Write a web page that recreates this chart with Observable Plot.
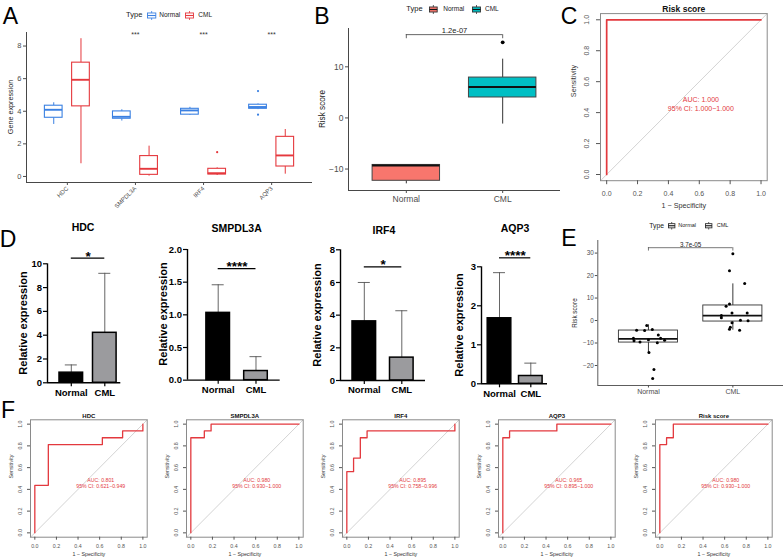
<!DOCTYPE html>
<html><head><meta charset="utf-8">
<script src="https://cdn.jsdelivr.net/npm/d3@7"></script>
<script src="https://cdn.jsdelivr.net/npm/@observablehq/plot@0.6"></script>
<style>
body{margin:0;background:#fff;}
#root{position:relative;width:783px;height:560px;overflow:hidden;background:#fff;font-family:"Liberation Sans",Arial,Helvetica,sans-serif;}
</style></head><body><div id="root"></div>
<script>
// ================= DATA =================
const genes = ["HDC", "SMPDL3A", "IRF4", "AQP3"];
const groups = ["Normal", "CML"];

// Panel A: box summaries (gene expression)
const aNormLo  = [3.19, 3.40, 3.74, 4.10];
const aNormQ1  = [3.60, 3.54, 3.79, 4.15];
const aNormMed = [4.09, 3.66, 4.05, 4.26];
const aNormQ3  = [4.34, 3.99, 4.15, 4.40];
const aNormHi  = [4.52, 4.09, 4.24, 4.45];
const aCmlLo   = [0.78, 0.02, 0.06, 0.14];
const aCmlQ1   = [4.30, 0.10, 0.12, 0.61];
const aCmlMed  = [5.93, 0.47, 0.20, 1.29];
const aCmlQ3   = [6.98, 1.25, 0.47, 2.43];
const aCmlHi   = [8.45, 1.86, 0.53, 2.88];
const aOutGene  = ["AQP3", "AQP3", "IRF4"];
const aOutGroup = ["Normal", "Normal", "CML"];
const aOutValue = [5.24, 3.79, 1.49];
const aSig = ["", "***", "***", "***"];
const aSigY = 8.7;

// Panel B: risk score boxes
const bLo  = [-12.9, -1.2];
const bQ1  = [-12.3, 4.0];
const bMed = [-9.3, 6.05];
const bQ3  = [-9.2, 7.9];
const bHi  = [-9.2, 11.5];
const bOutGroup = ["CML"];
const bOutValue = [14.8];
const bP = "1.2e-07";
const bBracketY = 16.3;

// Panel C: ROC of risk score
const cFpr  = [0, 0, 1];
const cSens = [0, 1, 1];
const cTitle = "Risk score";
const cAuc = "AUC: 1.000";
const cCi  = "95% CI: 1.000\u22121.000";

// Panel D: qPCR bars (mean and mean+SD)
const dNormMean  = [0.85, 1.03, 3.62, 1.68];
const dNormSdTop = [1.50, 1.46, 6.00, 2.85];
const dCmlMean   = [4.20, 0.14, 1.40, 0.20];
const dCmlSdTop  = [9.20, 0.36, 4.27, 0.53];
const dSig  = ["*", "****", "*", "****"];
const dSigY = [10.47, 1.706, 6.96, 3.23];
const dTicks = [[0, 2, 4, 6, 8, 10], [0, 0.5, 1, 1.5, 2], [0, 2, 4, 6, 8], [0, 1, 2, 3]];

// Panel E: validation risk score
const eLo  = [-14.4, -4.3];
const eQ1  = [-9.8, -0.45];
const eMed = [-8.2, 2.2];
const eQ3  = [-4.45, 6.7];
const eHi  = [-1.9, 16.3];
const eNormVals = [-4.3, -4.45, -2.2, -4.0, -6.4, -7.9, -9.0, -9.6, -8.5, -7.9, -8.8, -9.9, -14.2, -21.8, -25.8];
const eNormJit  = [-0.14, -0.045, -0.02, 0.046, 0.117, -0.178, -0.171, -0.1, 0, 0.144, 0.191, 0.105, 0.006, 0.065, 0.05];
const eCmlVals  = [29.7, 22.1, 16.5, 7.3, 6.4, 3.4, 3.4, 2.2, 1.2, 0.1, -0.1, -1.0, -3.0, -3.9, -4.3];
const eCmlJit   = [0, -0.04, 0.14, -0.04, -0.08, -0.01, 0.17, -0.136, -0.136, 0.09, 0.18, -0.01, -0.03, -0.04, 0.08];
const eP = "3.7e-05";
const eBracketY = 32.4;

// Panel F: validation ROC curves
const fTitles = ["HDC", "SMPDL3A", "IRF4", "AQP3", "Risk score"];
const fHdcFpr   = [0, 0, 0.125, 0.125, 0.625, 0.625, 0.8125, 0.8125, 1, 1];
const fHdcSens  = [0, 0.4375, 0.4375, 0.8125, 0.8125, 0.875, 0.875, 0.9375, 0.9375, 1];
const fSmpFpr   = [0, 0, 0.125, 0.125, 0.1875, 0.1875, 1];
const fSmpSens  = [0, 0.875, 0.875, 0.9375, 0.9375, 1, 1];
const fIrfFpr   = [0, 0, 0.0625, 0.0625, 0.125, 0.125, 0.1875, 0.1875, 1, 1];
const fIrfSens  = [0, 0.5625, 0.5625, 0.6875, 0.6875, 0.875, 0.875, 0.9375, 0.9375, 1];
const fAqpFpr   = [0, 0, 0.0625, 0.0625, 0.5, 0.5, 1];
const fAqpSens  = [0, 0.875, 0.875, 0.9375, 0.9375, 1, 1];
const fRiskFpr  = [0, 0, 0.0625, 0.0625, 0.125, 0.125, 1];
const fRiskSens = [0, 0.8125, 0.8125, 0.875, 0.875, 1, 1];
const fAuc = ["AUC: 0.801", "AUC: 0.980", "AUC: 0.895", "AUC: 0.965", "AUC: 0.980"];
const fCi  = ["95% CI: 0.621\u22120.949", "95% CI: 0.930\u22121.000", "95% CI: 0.758\u22120.996", "95% CI: 0.895\u22121.000", "95% CI: 0.930\u22121.000"];

const rocTicks = [0, 0.2, 0.4, 0.6, 0.8, 1.0];

// ================= HELPERS =================
const FONT = '"Liberation Sans", Arial, Helvetica, sans-serif';
const root = document.getElementById("root");

function txt(s, x, y, o = {}) {
  const d = document.createElement("div");
  d.textContent = s;
  const a = o.anchor || "middle";
  const tx = a === "start" ? "0" : a === "end" ? "-100%" : "-50%";
  d.style.cssText = `position:absolute;left:${x}px;top:${y}px;transform:translate(${tx},-50%)${o.rot ? ` rotate(${o.rot}deg)` : ""};` +
    `font-family:${FONT};font-size:${o.size || 10}px;font-weight:${o.weight || "normal"};color:${o.color || "#000"};white-space:nowrap;line-height:1;`;
  root.appendChild(d);
}

function icon(x, yc, w, h, stroke, fill, mid) {
  const ns = "http://www.w3.org/2000/svg";
  const s = document.createElementNS(ns, "svg");
  s.setAttribute("width", w); s.setAttribute("height", h);
  s.style.cssText = `position:absolute;left:${x}px;top:${yc - h / 2}px;overflow:visible`;
  s.innerHTML = `<line x1="${w / 2}" x2="${w / 2}" y1="0" y2="${h}" stroke="${stroke}" stroke-width="0.8"/>` +
    `<rect x="0.5" y="${h * 0.22}" width="${w - 1}" height="${h * 0.56}" fill="${fill}" stroke="${stroke}" stroke-width="0.9"/>` +
    `<line x1="0.5" x2="${w - 0.5}" y1="${h / 2}" y2="${h / 2}" stroke="${mid}" stroke-width="1.1"/>`;
  root.appendChild(s);
}

function mk(box, fr, opts) {
  const svg = Plot.plot(Object.assign({
    width: box.w, height: box.h,
    marginLeft: fr.x0 - box.l, marginRight: box.l + box.w - fr.x1,
    marginTop: fr.y0 - box.t, marginBottom: box.t + box.h - fr.y1,
    style: `background:transparent;overflow:visible;max-width:none;font-family:${FONT};`
  }, opts));
  svg.style.position = "absolute";
  svg.style.left = box.l + "px";
  svg.style.top = box.t + "px";
  root.appendChild(svg);
  return svg;
}

// ================= PANEL A =================
const aBlue = "#3a80e2", aRed = "#e5383d";
const aRows = [];
genes.forEach((g, i) => {
  aRows.push({gene: g, group: "Normal", xc: i + 1 - 0.2, lo: aNormLo[i], q1: aNormQ1[i], med: aNormMed[i], q3: aNormQ3[i], hi: aNormHi[i]});
  aRows.push({gene: g, group: "CML", xc: i + 1 + 0.2, lo: aCmlLo[i], q1: aCmlQ1[i], med: aCmlMed[i], q3: aCmlQ3[i], hi: aCmlHi[i]});
});
const aOut = aOutValue.map((v, i) => ({v, group: aOutGroup[i], xc: genes.indexOf(aOutGene[i]) + 1 + (aOutGroup[i] === "Normal" ? -0.2 : 0.2)}));
const aYDom = [-0.37, 8.83];
const aHW = 0.13;
mk({l: 0, t: 0, w: 320, h: 210}, {x0: 26, x1: 312, y0: 32, y1: 182}, {
  x: {domain: [0.4, 4.6]}, y: {domain: aYDom},
  color: {domain: groups, range: [aBlue, aRed]},
  marks: [
    Plot.ruleX(aRows, {x: "xc", y1: "lo", y2: "q1", stroke: "group", strokeWidth: 1}),
    Plot.ruleX(aRows, {x: "xc", y1: "q3", y2: "hi", stroke: "group", strokeWidth: 1}),
    Plot.rect(aRows, {x1: d => d.xc - aHW, x2: d => d.xc + aHW, y1: "q1", y2: "q3", fill: "white", stroke: "group", strokeWidth: 1.1}),
    Plot.ruleY(aRows, {y: "med", x1: d => d.xc - aHW, x2: d => d.xc + aHW, stroke: "group", strokeWidth: 1.9}),
    Plot.dot(aOut, {x: "xc", y: "v", r: 1.1, fill: "group"}),
    Plot.text(genes.map((g, i) => ({i: i + 1, s: aSig[i]})), {x: "i", y: aSigY, text: "s", fontSize: 7, fill: "#333"}),
    Plot.ruleX([0.4], {stroke: "#333", strokeWidth: 0.9}),
    Plot.ruleY([aYDom[0]], {stroke: "#333", strokeWidth: 0.9}),
    Plot.axisY({ticks: [0, 2, 4, 6, 8], tickFormat: d3.format("d"), tickSize: 3, tickPadding: 2, fontSize: 7.5, color: "#4d4d4d", label: null}),
    Plot.axisX({ticks: [1, 2, 3, 4], tickFormat: d => genes[d - 1], tickSize: 3, tickPadding: 2, tickRotate: -45, fontSize: 6, color: "#4d4d4d", label: null})
  ]
});
txt("A", 10.5, 16, {size: 23});
txt("Gene expression", 11, 107, {size: 7.2, rot: -90, color: "#222"});
txt("Type", 134.2, 15, {size: 7.5, color: "#222"});
icon(146.7, 15, 9.3, 9, aBlue, "white", aBlue);
txt("Normal", 159.3, 15, {size: 6.5, anchor: "start", color: "#222"});
icon(185, 15, 9, 9, aRed, "white", aRed);
txt("CML", 198.3, 15, {size: 6.5, anchor: "start", color: "#222"});

// ================= PANEL B =================
const bRows = groups.map((g, i) => ({group: g, xc: i + 1, lo: bLo[i], q1: bQ1[i], med: bMed[i], q3: bQ3[i], hi: bHi[i]}));
const bOut = bOutValue.map((v, i) => ({v, xc: groups.indexOf(bOutGroup[i]) + 1}));
const bYDom = [-14.2, 17.5];
const bHW = 0.35;
mk({l: 320, t: 0, w: 245, h: 210}, {x0: 348, x1: 560, y0: 28, y1: 190}, {
  x: {domain: [0.4, 2.6]}, y: {domain: bYDom},
  color: {domain: groups, range: ["#F8766D", "#00BFC4"]},
  marks: [
    Plot.ruleX(bRows, {x: "xc", y1: "lo", y2: "q1", stroke: "#333", strokeWidth: 1}),
    Plot.ruleX(bRows, {x: "xc", y1: "q3", y2: "hi", stroke: "#333", strokeWidth: 1}),
    Plot.rect(bRows, {x1: d => d.xc - bHW, x2: d => d.xc + bHW, y1: "q1", y2: "q3", fill: "group", stroke: "#444", strokeWidth: 1}),
    Plot.ruleY(bRows, {y: "med", x1: d => d.xc - bHW, x2: d => d.xc + bHW, stroke: "#111", strokeWidth: 2}),
    Plot.dot(bOut, {x: "xc", y: "v", r: 1.9, fill: "#000"}),
    Plot.ruleY([bBracketY], {x1: 1, x2: 2, stroke: "#555", strokeWidth: 0.9}),
    Plot.ruleX([1, 2], {x: d => d, y1: bBracketY - 0.8, y2: bBracketY, stroke: "#555", strokeWidth: 0.9}),
    Plot.text([bP], {x: 1.5, y: bBracketY, text: d => d, lineAnchor: "bottom", dy: -1.3, fontSize: 7.5, fill: "#222"}),
    Plot.ruleX([0.4], {stroke: "#333", strokeWidth: 0.9}),
    Plot.ruleY([bYDom[0]], {stroke: "#333", strokeWidth: 0.9}),
    Plot.axisY({ticks: [-10, 0, 10], tickFormat: d3.format("d"), tickSize: 3, tickPadding: 2, fontSize: 8.5, color: "#4d4d4d", label: null}),
    Plot.axisX({ticks: [1, 2], tickFormat: d => groups[d - 1], tickSize: 3, tickPadding: 2.3, fontSize: 8.5, color: "#4d4d4d", label: null})
  ]
});
txt("B", 322, 15.5, {size: 23});
txt("Risk score", 323, 109, {size: 8.2, rot: -90, color: "#222"});
txt("Type", 414.5, 9, {size: 7.5, color: "#222"});
icon(429, 9, 8.7, 9, "#333", "#F8766D", "#111");
txt("Normal", 443.3, 9, {size: 6.5, anchor: "start", color: "#222"});
icon(472, 9, 9, 9, "#333", "#00BFC4", "#111");
txt("CML", 485, 9, {size: 6.5, anchor: "start", color: "#222"});

// ================= ROC helper (C and F) =================
const rocRed = "#e3393e";
const rocDom = [-0.04, 1.04];
function roc(box, fr, fpr, sens, title, auc, ci, S) {
  const pts = fpr.map((f, i) => ({f, s: sens[i]}));
  mk(box, fr, {
    x: {domain: rocDom}, y: {domain: rocDom},
    marks: [
      Plot.line(rocDom.map(v => ({v})), {x: "v", y: "v", stroke: "#c8c8c8", strokeWidth: 0.8}),
      Plot.line(pts, {x: "f", y: "s", stroke: rocRed, strokeWidth: S.lw}),
      Plot.text([auc + "\n" + ci], {x: 0.61, y: 0.457, text: d => d, fill: rocRed, fontSize: S.auc, lineHeight: S.lh, lineAnchor: "middle"}),
      Plot.frame({stroke: "#8a8a8a", strokeWidth: 1}),
      Plot.axisX({ticks: rocTicks, tickFormat: d3.format(".1f"), tickSize: S.tickSize, tickPadding: S.tickPad, fontSize: S.tick, color: "#555", label: null}),
      Plot.axisY({ticks: rocTicks, tickFormat: () => "", tickSize: S.tickSize, color: "#555", label: null}),
      Plot.text(rocTicks, {x: rocDom[0], y: d => d, text: d3.format(".1f"), rotate: -90, dx: S.ytickDx, fontSize: S.tick, fill: "#555"}),
      Plot.text([title], {frameAnchor: "top", dy: S.titleDy, text: d => d, fontSize: S.title, fontWeight: "bold", fill: "#111"}),
      Plot.text(["1 \u2212 Specificity"], {frameAnchor: "bottom", dy: S.xlabDy, text: d => d, fontSize: S.lab, fill: "#333"}),
      Plot.text(["Sensitivity"], {frameAnchor: "left", dx: S.ylabDx, rotate: -90, text: d => d, fontSize: S.lab, fill: "#333"})
    ]
  });
}

// ================= PANEL C =================
roc({l: 565, t: 0, w: 218, h: 210}, {x0: 600, x1: 766.7, y0: 13.1, y1: 180.2}, cFpr, cSens, cTitle, cAuc, cCi,
  {tick: 7, tickSize: 4, tickPad: 6.5, ytickDx: -13.3, title: 8.5, titleDy: -8, lab: 7.2, xlabDy: 26.8, ylabDx: -27.3, auc: 7, lh: 1.24, lw: 1.7});
txt("C", 569, 15.8, {size: 23});

// ================= PANEL D =================
const dLay = [
  {axisL: 46.7, c1: 70.5, c2: 104, axisR: 120, y0: 382.3, yTop: 263.3, tx: 83, ty: 227, lx: 23},
  {axisL: 187.3, c1: 218, c2: 255.8, axisR: 280, y0: 379.7, yTop: 249, tx: 236.7, ty: 228.3, lx: 163.3},
  {axisL: 340, c1: 363.8, c2: 401.3, axisR: 425, y0: 380, yTop: 249.3, tx: 384, ty: 230, lx: 317.3},
  {axisL: 481, c1: 499, c2: 530.3, axisR: 547, y0: 383.3, yTop: 266.3, tx: 515, ty: 228.3, lx: 459}
];
genes.forEach((g, i) => {
  const L = dLay[i], unit = L.c2 - L.c1;
  const xd = [1 - (L.c1 - L.axisL) / unit, 2 + (L.axisR - L.c2) / unit];
  const hw = 11.8 / unit, cap = 6 / unit;
  const ticks = dTicks[i], ymax = ticks[ticks.length - 1];
  const bars = [
    {x: 1, grp: "Normal", mean: dNormMean[i], top: dNormSdTop[i]},
    {x: 2, grp: "CML", mean: dCmlMean[i], top: dCmlSdTop[i]}
  ];
  mk({l: L.axisL - 40, t: 215, w: L.axisR - L.axisL + 45, h: 185}, {x0: L.axisL, x1: L.axisR, y0: L.yTop, y1: L.y0}, {
    x: {domain: xd}, y: {domain: [0, ymax]},
    color: {domain: groups, range: ["#000000", "#9b9b9e"]},
    marks: [
      Plot.ruleX(bars, {x: "x", y1: "mean", y2: "top", stroke: "#555", strokeWidth: 0.9}),
      Plot.ruleY(bars, {y: "top", x1: d => d.x - cap, x2: d => d.x + cap, stroke: "#555", strokeWidth: 0.9}),
      Plot.rect(bars, {x1: d => d.x - hw, x2: d => d.x + hw, y1: 0, y2: "mean", fill: "grp", stroke: "#000", strokeWidth: 1.5}),
      Plot.ruleY([dSigY[i]], {x1: 1, x2: 2, stroke: "#000", strokeWidth: 1.2}),
      Plot.text([dSig[i]], {x: 1.5, y: dSigY[i], text: d => d, lineAnchor: "bottom", dy: 2.5, fontSize: 13.5, fontWeight: "bold", fill: "#000"}),
      Plot.ruleX([xd[0]], {y1: 0, y2: ymax, stroke: "#000", strokeWidth: 1.4}),
      Plot.ruleY([0], {stroke: "#000", strokeWidth: 1.4}),
      Plot.axisY({ticks, tickFormat: i === 1 ? d3.format(".1f") : d3.format("d"), tickSize: 4, tickPadding: 1.5, fontSize: 9.5, fontWeight: "bold", color: "#000", strokeWidth: 1.2, label: null}),
      Plot.axisX({ticks: [1, 2], tickFormat: d => groups[d - 1], tickSize: 4, tickPadding: 2, fontSize: 9.5, fontWeight: "bold", color: "#000", strokeWidth: 1.2, label: null})
    ]
  });
  txt(g, L.tx, L.ty, {size: 10.5, weight: "bold"});
  txt("Relative expression", L.lx, (L.y0 + L.yTop) / 2, {size: 11, weight: "bold", rot: -90});
});
txt("D", 8, 238.5, {size: 23});

// ================= PANEL E =================
const eRows = groups.map((g, i) => ({group: g, xc: i + 1, lo: eLo[i], q1: eQ1[i], med: eMed[i], q3: eQ3[i], hi: eHi[i]}));
const ePts = eNormVals.map((v, i) => ({v, x: 1 + eNormJit[i]})).concat(eCmlVals.map((v, i) => ({v, x: 2 + eCmlJit[i]})));
const eYDom = [-28.9, 35.6];
const eHW = 0.35;
mk({l: 560, t: 215, w: 223, h: 185}, {x0: 597.3, x1: 783, y0: 240, y1: 385}, {
  x: {domain: [0.4, 2.6]}, y: {domain: eYDom},
  marks: [
    Plot.ruleX(eRows, {x: "xc", y1: "lo", y2: "q1", stroke: "#222", strokeWidth: 0.9}),
    Plot.ruleX(eRows, {x: "xc", y1: "q3", y2: "hi", stroke: "#222", strokeWidth: 0.9}),
    Plot.rect(eRows, {x1: d => d.xc - eHW, x2: d => d.xc + eHW, y1: "q1", y2: "q3", fill: "white", stroke: "#333", strokeWidth: 0.9}),
    Plot.ruleY(eRows, {y: "med", x1: d => d.xc - eHW, x2: d => d.xc + eHW, stroke: "#111", strokeWidth: 1.8}),
    Plot.dot(ePts, {x: "x", y: "v", r: 1.5, fill: "#000"}),
    Plot.ruleY([eBracketY], {x1: 1, x2: 2, stroke: "#555", strokeWidth: 0.8}),
    Plot.ruleX([1, 2], {x: d => d, y1: eBracketY - 1.5, y2: eBracketY, stroke: "#555", strokeWidth: 0.8}),
    Plot.text([eP], {x: 1.5, y: eBracketY, text: d => d, lineAnchor: "bottom", dy: -1, fontSize: 6.3, fill: "#222"}),
    Plot.ruleX([0.4], {stroke: "#333", strokeWidth: 0.8}),
    Plot.ruleY([eYDom[0]], {stroke: "#333", strokeWidth: 0.8}),
    Plot.axisY({ticks: [-20, -10, 0, 10, 20, 30], tickFormat: d3.format("d"), tickSize: 2.5, tickPadding: 1.5, fontSize: 6.3, color: "#4d4d4d", label: null}),
    Plot.axisX({ticks: [1, 2], tickFormat: d => groups[d - 1], tickSize: 2.5, tickPadding: 1.5, fontSize: 7, color: "#4d4d4d", label: null})
  ]
});
txt("E", 569, 238, {size: 23});
txt("Risk score", 575, 312.5, {size: 6.3, rot: -90, color: "#222"});
txt("Type", 656.7, 225.7, {size: 6.8, color: "#222"});
icon(668.3, 225.7, 7.4, 7.5, "#333", "white", "#111");
txt("Normal", 678.3, 225.7, {size: 5.5, anchor: "start", color: "#222"});
icon(705, 225.7, 7.4, 7.5, "#333", "white", "#111");
txt("CML", 716.7, 225.7, {size: 5.5, anchor: "start", color: "#222"});

// ================= PANEL F =================
const fFpr  = [fHdcFpr, fSmpFpr, fIrfFpr, fAqpFpr, fRiskFpr];
const fSens = [fHdcSens, fSmpSens, fIrfSens, fAqpSens, fRiskSens];
const fX0 = [30, 185.7, 341.7, 498.3, 655];
fTitles.forEach((t, i) => {
  const x0 = fX0[i];
  roc({l: x0 - 26, t: 400, w: 150, h: 160}, {x0, x1: x0 + 116.7, y0: 419.3, y1: 536.7}, fFpr[i], fSens[i], t, fAuc[i], fCi[i],
    {tick: 5.3, tickSize: 3, tickPad: 4.4, ytickDx: -10, title: 6, titleDy: -6, lab: 5.3, xlabDy: 19, ylabDx: -19, auc: 5.2, lh: 1.1, lw: 1.3});
});
txt("F", 8, 410, {size: 23});
</script>
</body></html>
